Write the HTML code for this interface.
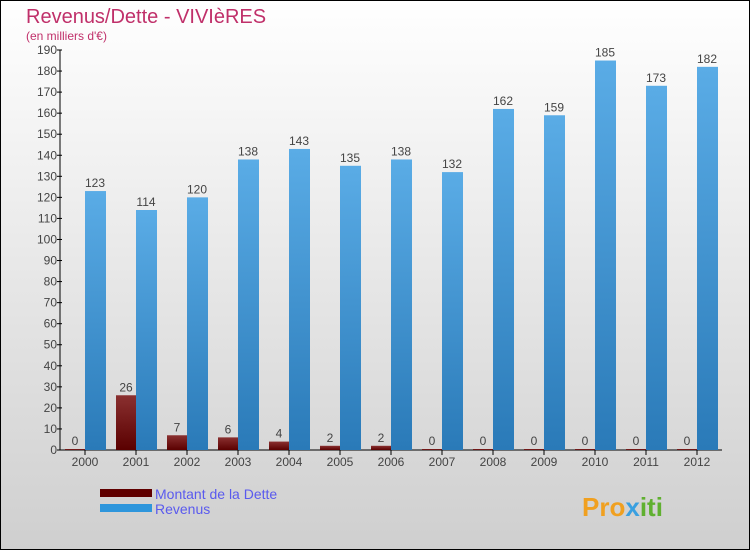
<!DOCTYPE html>
<html><head><meta charset="utf-8"><style>
body{margin:0}
svg{display:block}
text{font-family:"Liberation Sans","DejaVu Sans",sans-serif}
</style></head><body>
<svg id="c" width="750" height="550" xmlns="http://www.w3.org/2000/svg">
<defs>
<linearGradient id="bg" x1="0" y1="0" x2="0" y2="1"><stop offset="0" stop-color="#ffffff"/><stop offset="1" stop-color="#cfcfcf"/></linearGradient>
<linearGradient id="rev" x1="0" y1="0" x2="0" y2="1"><stop offset="0" stop-color="#5aace6"/><stop offset="1" stop-color="#2a7ab8"/></linearGradient>
<linearGradient id="debt" x1="0" y1="0" x2="0" y2="1"><stop offset="0" stop-color="#8a3030"/><stop offset="1" stop-color="#5a0000"/></linearGradient>
</defs>
<rect x="0.5" y="0.5" width="749" height="549" fill="url(#bg)" stroke="#000"/>
<text x="26" y="23" font-size="20" fill="#c0306a">Revenus/Dette - VIVIèRES</text>
<text x="26" y="40" font-size="12" fill="#c0306a">(en milliers d'€)</text>
<g id="axes"></g>
<g id="bars"></g>
<rect x="100" y="489" width="52" height="8" fill="#600000"/>
<text x="155" y="499" font-size="14" fill="#5a5aee">Montant de la Dette</text>
<rect x="100" y="504" width="52" height="8" fill="#2e96dc"/>
<text x="155" y="514" font-size="14" fill="#5a5aee">Revenus</text>
<text x="582" y="516" font-size="26" font-weight="bold" fill="#f0a020">Pro<tspan fill="#3aa0e0">x</tspan><tspan fill="#60b030">iti</tspan></text>
</svg>
<script>
const years=["2000","2001","2002","2003","2004","2005","2006","2007","2008","2009","2010","2011","2012"];
const debt=[0,26,7,6,4,2,2,0,0,0,0,0,0];
const revenue=[123,114,120,138,143,135,138,132,162,159,185,173,182];
const yTicks=[0,10,20,30,40,50,60,70,80,90,100,110,120,130,140,150,160,170,180,190];
const NS="http://www.w3.org/2000/svg";
const y=v=>450-v*400/190;
const xc=i=>85+i*51;
function mk(t,a,p){const e=document.createElementNS(NS,t);for(const k in a)e.setAttribute(k,a[k]);p.appendChild(e);return e;}
const ax=document.getElementById('axes'),bg=document.getElementById('bars');
let l=mk('line',{x1:60,y1:50,x2:60,y2:450,stroke:'#000'},ax);


l=mk('line',{x1:60,y1:450,x2:722,y2:450,stroke:'#000'},ax);


yTicks.forEach(v=>{
 const t=mk('line',{x1:57,x2:62,y1:y(v),y2:y(v),stroke:'#000'},ax);
 
 
 const tx=mk('text',{x:57,y:y(v)+4,'font-size':12,'text-anchor':'end',fill:'#444'},ax);
 tx.textContent=v;
 
 
});
years.forEach((yr,i)=>{
 const c=xc(i);
 const tk=mk('line',{x1:c,x2:c,y1:450,y2:455,stroke:'#000'},ax);
 
 
 const tx=mk('text',{x:c,y:466,'font-size':12,'text-anchor':'middle',fill:'#444'},ax);
 tx.textContent=yr;
 
 
 const dh=Math.max(450-y(debt[i]),1);
 const d=mk('rect',{x:c-20,y:450-dh,width:20,height:dh,fill:'url(#debt)'},bg);
 
 
 const dl=mk('text',{x:c-10,y:450-dh-4,'font-size':12,'text-anchor':'middle',fill:'#444'},bg);
 dl.textContent=debt[i];
 
 
 const r=mk('rect',{x:c,y:y(revenue[i]),width:21,height:450-y(revenue[i]),fill:'url(#rev)'},bg);
 
 
 const rl=mk('text',{x:c+10,y:y(revenue[i])-4,'font-size':12,'text-anchor':'middle',fill:'#444'},bg);
 rl.textContent=revenue[i];
 
 
});
</script>
</body></html>
